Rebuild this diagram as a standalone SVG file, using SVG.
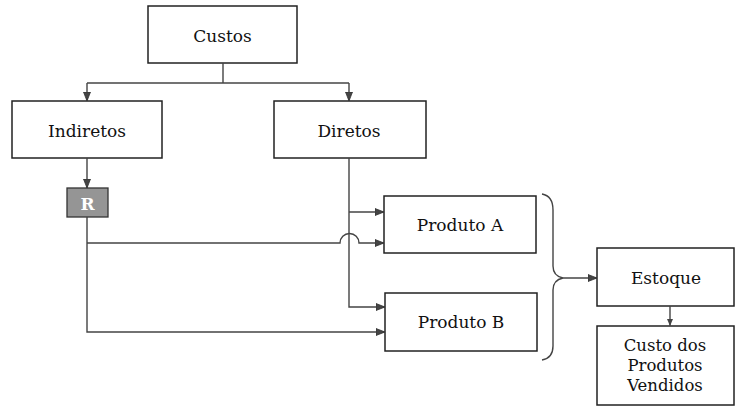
<svg xmlns="http://www.w3.org/2000/svg" width="735" height="406" viewBox="0 0 735 406">
<defs>
<marker id="ah" markerWidth="10" markerHeight="8" refX="9" refY="4" orient="auto" markerUnits="userSpaceOnUse">
<path d="M0,0.5 L9,4 L0,7.5 Z" fill="#444" stroke="#333" stroke-width="0.8"/>
</marker>
<marker id="ahs" markerWidth="8" markerHeight="7" refX="7" refY="3.5" orient="auto" markerUnits="userSpaceOnUse">
<path d="M0,0.5 L7,3.5 L0,6.5 Z" fill="#444"/>
</marker>
</defs>
<style>
.box{fill:#fff;stroke:#222;stroke-width:1.5}
.lbl{font-family:'DejaVu Serif','Liberation Serif',serif;font-size:17px;fill:#111;text-anchor:middle}
.sm{font-size:16.5px}
.ln{fill:none;stroke:#444;stroke-width:1.4}
</style>
<rect width="735" height="406" fill="#fff"/>
<g id="custos"><rect class="box" x="148" y="6" width="149" height="57"/><text class="lbl" x="222.5" y="42">Custos</text></g>
<g id="indiretos"><rect class="box" x="12" y="101" width="150" height="57"/><text class="lbl" x="87" y="137">Indiretos</text></g>
<g id="diretos"><rect class="box" x="274" y="101" width="152" height="57"/><text class="lbl" x="349" y="137">Diretos</text></g>
<g id="r"><rect x="67" y="188" width="41" height="29" fill="#959595" stroke="#333" stroke-width="1.3"/><text x="87.5" y="210" font-family="DejaVu Serif, serif" font-size="17" font-weight="bold" fill="#fff" text-anchor="middle">R</text></g>
<g id="produtoA"><rect class="box" x="384" y="196" width="152" height="57"/><text class="lbl" x="460" y="231">Produto A</text></g>
<g id="produtoB"><rect class="box" x="385" y="293" width="152" height="58"/><text class="lbl" x="461" y="328">Produto B</text></g>
<g id="estoque"><rect class="box" x="597" y="248" width="137" height="58"/><text class="lbl" x="666" y="284">Estoque</text></g>
<g id="cpv"><rect class="box" x="597" y="326" width="137" height="79"/><text class="lbl sm" x="665" y="351">Custo dos</text><text class="lbl sm" x="665" y="371">Produtos</text><text class="lbl sm" x="665" y="391">Vendidos</text></g>
<g id="connectors">
<path class="ln" d="M223,63 V83"/>
<path class="ln" d="M87,83 H349"/>
<path class="ln" d="M87,83 V101" marker-end="url(#ah)"/>
<path class="ln" d="M349,83 V101" marker-end="url(#ah)"/>
<path class="ln" d="M87,158 V188" marker-end="url(#ah)"/>
<path class="ln" d="M349,158 V307 H385" marker-end="url(#ah)"/>
<path class="ln" d="M349,212 H384" marker-end="url(#ah)"/>
<path class="ln" d="M87,217 V332 H385" marker-end="url(#ah)"/>
<path class="ln" d="M87,243 H340 A9.5,9.5 0 0 1 359,243 H384" marker-end="url(#ah)"/>
<path class="ln" d="M542,194 Q553,196 553,210 V266 Q553,276 563,278 Q553,280 553,290 V346 Q553,358 542,360" stroke="#333" stroke-width="1.6"/>
<path class="ln" d="M563,278 H597" marker-end="url(#ah)"/>
<path class="ln" d="M670,306 V326" marker-end="url(#ahs)"/>
</g>
</svg>
